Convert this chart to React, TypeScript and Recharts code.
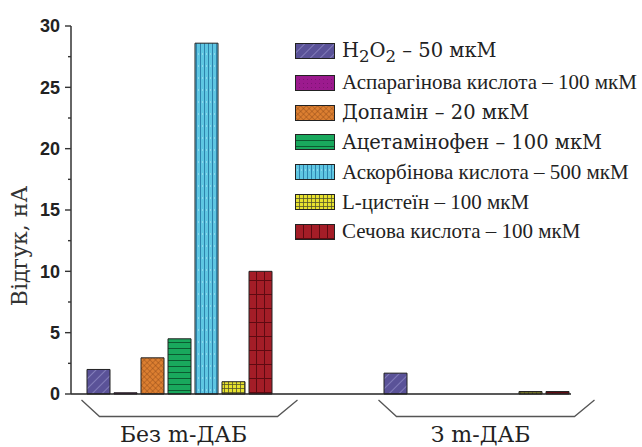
import React from "react";
import { BarChart, Bar, XAxis, YAxis, Legend } from "recharts";

// ---- data ----
const groups = ["Без m-ДАБ", "З m-ДАБ"];
const h2o2 = [2.0, 1.7];
const aspartic = [0.1, 0];
const dopamine = [2.95, 0];
const acetaminophen = [4.5, 0];
const ascorbic = [28.6, 0];
const cysteine = [1.0, 0.2];
const uric = [10.0, 0.2];
const yTicks = [0, 2.5, 5, 7.5, 10, 12.5, 15, 17.5, 20, 22.5, 25, 27.5, 30];

const seriesValues: Record<string, number[]> = {
  h2o2,
  aspartic,
  dopamine,
  acetaminophen,
  ascorbic,
  cysteine,
  uric,
};

const seriesMeta = [
  { key: "h2o2", name: "H2O2 – 50 мкМ", wide: true },
  { key: "aspartic", name: "Аспарагінова кислота – 100 мкМ", wide: false },
  { key: "dopamine", name: "Допамін – 20 мкМ", wide: true },
  { key: "acetaminophen", name: "Ацетамінофен – 100 мкМ", wide: true },
  { key: "ascorbic", name: "Аскорбінова кислота – 500 мкМ", wide: false },
  { key: "cysteine", name: "L-цистеїн – 100 мкМ", wide: false },
  { key: "uric", name: "Сечова кислота – 100 мкМ", wide: false },
];

const data = groups.map((g, gi) => {
  const row: Record<string, string | number> = { group: g };
  Object.keys(seriesValues).forEach((k) => {
    row[k] = seriesValues[k][gi];
  });
  return row;
});

const WIDE_FONT = "'DejaVu Serif', serif";
const NARROW_FONT = "'Liberation Serif', 'Times New Roman', serif";

const Patterns = () => (
  <svg width={0} height={0} style={{ position: "absolute" }}>
    <defs>
      <pattern id="pat-h2o2" width="7" height="7" patternUnits="userSpaceOnUse" patternTransform="rotate(45)">
        <rect width="7" height="7" fill="#5a5298" />
        <line x1="0" y1="0" x2="0" y2="7" stroke="#9d99cf" strokeWidth="1.2" />
      </pattern>
      <pattern id="pat-aspartic" width="4" height="4" patternUnits="userSpaceOnUse">
        <rect width="4" height="4" fill="#9c1a8e" />
        <rect width="1" height="1" fill="#7e1274" />
      </pattern>
      <pattern id="pat-dopamine" width="4" height="4" patternUnits="userSpaceOnUse" patternTransform="rotate(45)">
        <rect width="4" height="4" fill="#dc7f31" />
        <line x1="0" y1="0" x2="0" y2="4" stroke="#8a4517" strokeWidth="0.8" />
        <line x1="0" y1="0" x2="4" y2="0" stroke="#8a4517" strokeWidth="0.8" />
      </pattern>
      <pattern id="pat-acetaminophen" width="6" height="6" patternUnits="userSpaceOnUse">
        <rect width="6" height="6" fill="#19a85d" />
        <line x1="0" y1="0.5" x2="6" y2="0.5" stroke="#0c5a31" strokeWidth="1" />
      </pattern>
      <pattern id="pat-ascorbic" width="4" height="12" patternUnits="userSpaceOnUse">
        <rect width="4" height="12" fill="#5ec6e2" />
        <line x1="0.5" y1="0" x2="0.5" y2="12" stroke="#2d82ac" strokeWidth="1" />
        <line x1="2" y1="6" x2="3" y2="6" stroke="#b9e8f4" strokeWidth="1" />
      </pattern>
      <pattern id="pat-cysteine" width="4" height="4" patternUnits="userSpaceOnUse">
        <rect width="4" height="4" fill="#e7e22f" />
        <line x1="0" y1="0.5" x2="4" y2="0.5" stroke="#55552a" strokeWidth="0.8" />
        <line x1="0.5" y1="0" x2="0.5" y2="4" stroke="#55552a" strokeWidth="0.8" />
      </pattern>
      <pattern id="pat-uric" width="8" height="14" patternUnits="userSpaceOnUse">
        <rect width="8" height="14" fill="#a41d27" />
        <line x1="0" y1="0.5" x2="8" y2="0.5" stroke="#5e0a11" strokeWidth="1" />
        <line x1="0.5" y1="0" x2="0.5" y2="14" stroke="#5e0a11" strokeWidth="1" />
      </pattern>
    </defs>
  </svg>
);

const YTick = (props: any) => {
  const { x, y, payload } = props;
  const v = payload.value as number;
  const major = v % 5 === 0;
  return (
    <g>
      <line x1={x + 5 + (major ? 0 : 3)} x2={x + 11} y1={y} y2={y} stroke="#333" strokeWidth={1.4} />
      {major && (
        <text
          x={x}
          y={y}
          dy="0.36em"
          textAnchor="end"
          fontFamily="'Liberation Sans', Arial, sans-serif"
          fontWeight="bold"
          fontSize={18}
          fill="#222"
        >
          {v}
        </text>
      )}
    </g>
  );
};

const XTick = (props: any) => {
  const { x, y, payload } = props;
  const pts = `${x - 98},${y + 6} ${x - 80},${y + 22.5} ${x + 98},${y + 22.5} ${x + 118},${y + 6}`;
  return (
    <g>
      <polyline points={pts} fill="none" stroke="#555" strokeWidth={1.3} />
      <text x={x + 4} y={y + 47.5} textAnchor="middle" fontFamily={WIDE_FONT} fontSize={22} fill="#222">
        {payload.value}
      </text>
    </g>
  );
};

const YLabel = (props: any) => {
  const { viewBox } = props;
  const cx = viewBox.x + 8;
  const cy = viewBox.y + viewBox.height / 2 + 36;
  return (
    <text
      x={cx}
      y={cy}
      transform={`rotate(-90, ${cx}, ${cy})`}
      textAnchor="middle"
      dominantBaseline="central"
      fontFamily={WIDE_FONT}
      fontSize={22}
      fill="#333"
    >
      Відгук, нА
    </text>
  );
};

const LegendContent = () => {
  return (
    <div style={{ display: "flex", flexDirection: "column" }}>
      {seriesMeta.map((meta, i) => {
        const label =
          meta.key === "h2o2" ? (
            <span>
              H<span style={{ fontSize: "0.85em", position: "relative", top: "0.3em" }}>2</span>O
              <span style={{ fontSize: "0.85em", position: "relative", top: "0.3em" }}>2</span> – 50 мкМ
            </span>
          ) : (
            meta.name
          );
        return (
          <div
            key={meta.key}
            style={{
              display: "flex",
              alignItems: "center",
              height: i === 0 ? 34 : 29.8,
              whiteSpace: "nowrap",
            }}
          >
            <svg width={40} height={16} style={{ flex: "none" }}>
              <rect x={0.5} y={0.5} width={39} height={15} fill={`url(#pat-${meta.key})`} stroke="#222" strokeWidth={1} />
            </svg>
            <span
              style={{
                marginLeft: 7,
                fontFamily: meta.wide ? WIDE_FONT : NARROW_FONT,
                fontSize: meta.wide ? 19.5 : 21,
                color: "#222",
                lineHeight: 1,
              }}
            >
              {label}
            </span>
          </div>
        );
      })}
    </div>
  );
};

export default function App() {
  return (
    <div style={{ position: "absolute", left: 0, top: 0, width: 642, height: 447, background: "#fff" }}>
      <Patterns />
      <BarChart
        width={642}
        height={447}
        data={data}
        margin={{ top: 26, right: 71, bottom: 0, left: 11 }}
        barSize={23}
        barGap={4}
      >
        <XAxis
          dataKey="group"
          type="category"
          axisLine={{ stroke: "#222", strokeWidth: 1.5 }}
          tickLine={false}
          tickSize={0}
          tickMargin={0}
          height={53}
          interval={0}
          padding={{ left: -40, right: -54 }}
          tick={<XTick />}
        />
        <YAxis
          type="number"
          domain={[0, 30]}
          ticks={yTicks}
          interval={0}
          width={60}
          tickSize={6}
          tickMargin={5}
          tickLine={false}
          axisLine={{ stroke: "#333", strokeWidth: 1.5 }}
          tick={<YTick />}
          label={<YLabel />}
        />
        <Legend
          layout="vertical"
          align="center"
          verticalAlign="middle"
          content={<LegendContent />}
          wrapperStyle={{ left: 295, top: 34, width: 347, height: "auto" }}
        />
        {seriesMeta.map((m) => (
          <Bar
            key={m.key}
            dataKey={m.key}
            name={m.name}
            fill={`url(#pat-${m.key})`}
            stroke="#222"
            strokeWidth={1}
            isAnimationActive={false}
          />
        ))}
      </BarChart>
    </div>
  );
}
